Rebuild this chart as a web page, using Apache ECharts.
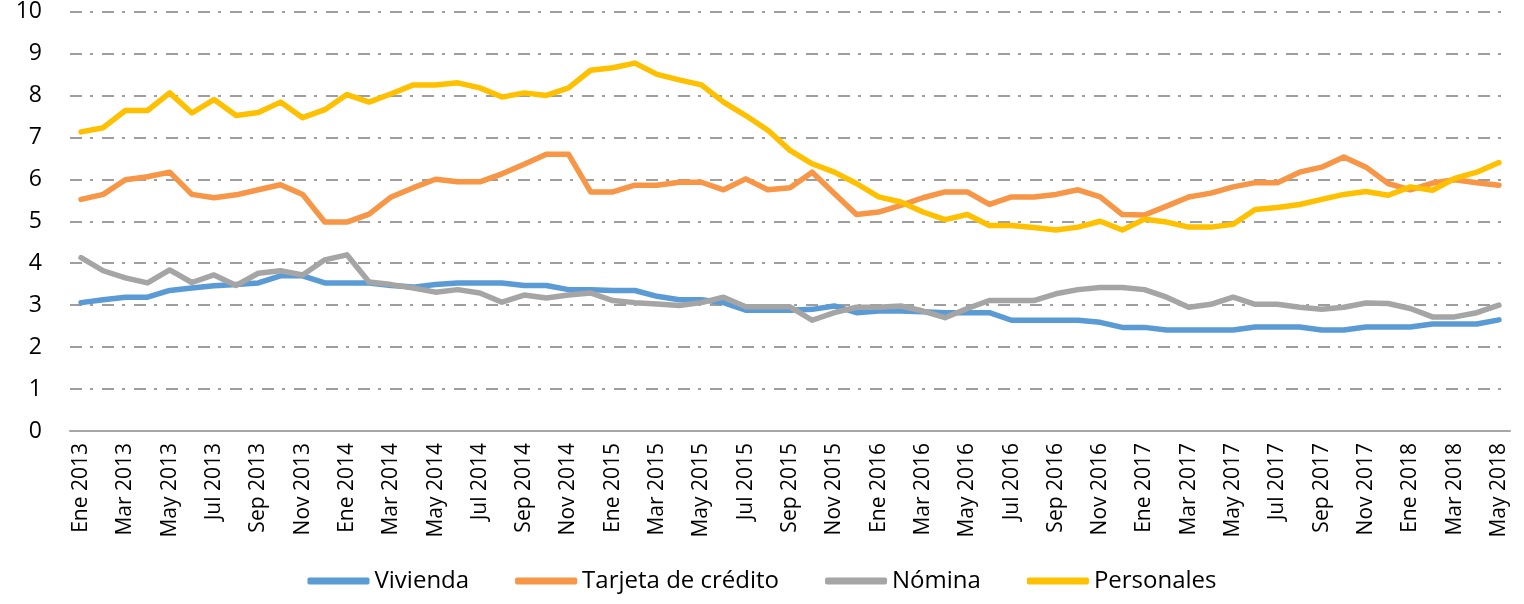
<!DOCTYPE html>
<html>
<head>
<meta charset="utf-8">
<script src="https://cdn.jsdelivr.net/npm/echarts@6/dist/echarts.min.js"></script>
<style>
  html, body { margin: 0; padding: 0; background: #fff; }
  #chart-container { width: 1524px; height: 604px; }
</style>
</head>
<body>
<div id="chart-container"></div>
<script>
var monthNames = ['Ene', 'Feb', 'Mar', 'Abr', 'May', 'Jun', 'Jul', 'Ago', 'Sep', 'Oct', 'Nov', 'Dic'];
var years = [2013, 2014, 2015, 2016, 2017, 2018];

// Ene 2013 .. May 2018
var months = [];
years.forEach(function (y) {
  monthNames.forEach(function (m, k) {
    if (y === 2018 && k > 4) return;
    months.push(m + ' ' + y);
  });
});

var vivienda = [3.06, 3.13, 3.19, 3.19, 3.35, 3.41, 3.46, 3.49, 3.53, 3.7, 3.7, 3.53, 3.53, 3.53, 3.47, 3.43, 3.49,
  3.53, 3.53, 3.53, 3.47, 3.47, 3.37, 3.37, 3.35, 3.35, 3.21, 3.13, 3.13, 3.06, 2.88, 2.88, 2.88,
  2.9, 2.98, 2.82, 2.86, 2.86, 2.84, 2.82, 2.82, 2.82, 2.64, 2.64, 2.64, 2.64, 2.59, 2.47, 2.47,
  2.41, 2.41, 2.41, 2.41, 2.48, 2.48, 2.48, 2.41, 2.41, 2.48, 2.48, 2.48, 2.55, 2.55, 2.55, 2.65];

var tarjeta = [5.52, 5.64, 5.99, 6.06, 6.17, 5.64, 5.56, 5.63, 5.75, 5.87, 5.64, 4.98, 4.98, 5.17, 5.58, 5.8, 6.0,
  5.94, 5.94, 6.13, 6.36, 6.6, 6.6, 5.7, 5.7, 5.86, 5.86, 5.93, 5.93, 5.75, 6.01, 5.75, 5.8,
  6.17, 5.66, 5.16, 5.22, 5.38, 5.56, 5.7, 5.7, 5.4, 5.58, 5.58, 5.64, 5.75, 5.58, 5.16, 5.15,
  5.36, 5.58, 5.67, 5.82, 5.92, 5.92, 6.17, 6.29, 6.53, 6.29, 5.9, 5.75, 5.91, 5.99, 5.92, 5.86];

var nomina = [4.13, 3.82, 3.65, 3.53, 3.84, 3.54, 3.72, 3.47, 3.76, 3.82, 3.72, 4.08, 4.2, 3.55, 3.49, 3.41, 3.31,
  3.37, 3.29, 3.07, 3.24, 3.17, 3.24, 3.29, 3.11, 3.06, 3.03, 2.99, 3.06, 3.19, 2.96, 2.96, 2.96,
  2.64, 2.82, 2.95, 2.95, 2.98, 2.86, 2.7, 2.92, 3.11, 3.11, 3.11, 3.27, 3.37, 3.42, 3.42, 3.37,
  3.19, 2.95, 3.02, 3.19, 3.02, 3.02, 2.95, 2.9, 2.95, 3.05, 3.04, 2.92, 2.72, 2.72, 2.82, 3.0];

var personales = [7.13, 7.23, 7.64, 7.64, 8.06, 7.58, 7.9, 7.52, 7.59, 7.84, 7.47, 7.66, 8.02, 7.84, 8.04, 8.25, 8.25,
  8.3, 8.18, 7.96, 8.06, 8.0, 8.18, 8.6, 8.66, 8.77, 8.5, 8.37, 8.25, 7.84, 7.52, 7.17, 6.69,
  6.37, 6.17, 5.9, 5.58, 5.46, 5.22, 5.04, 5.16, 4.9, 4.9, 4.85, 4.79, 4.86, 5.0, 4.79, 5.05,
  4.98, 4.86, 4.86, 4.93, 5.28, 5.33, 5.4, 5.52, 5.64, 5.71, 5.62, 5.82, 5.74, 6.02, 6.17, 6.4];

var seriesNames = ['Vivienda', 'Tarjeta de crédito', 'Nómina', 'Personales'];
var seriesColors = ['#5b9bd5', '#f79646', '#a5a5a5', '#ffc000'];
var seriesData = [vivienda, tarjeta, nomina, personales];

var dom = document.getElementById('chart-container');
var myChart = echarts.init(dom, null, { renderer: 'canvas' });

var fontFamily = '"Open Sans", "DejaVu Sans", sans-serif';

var option = {
  animation: false,
  textStyle: { fontFamily: fontFamily },
  grid: { left: 70, right: 14, top: 11, bottom: 173 },
  legend: {
    bottom: 6,
    left: 'center',
    itemWidth: 62,
    itemHeight: 7,
    itemGap: 46,
    icon: 'roundRect',
    textStyle: { fontSize: 24, color: '#000', fontFamily: fontFamily },
    data: seriesNames
  },
  xAxis: {
    type: 'category',
    data: months,
    boundaryGap: true,
    axisLine: { lineStyle: { color: '#a6a6a6', width: 2 } },
    axisTick: { show: false },
    axisLabel: {
      interval: 1,
      rotate: 90,
      fontSize: 21,
      color: '#000',
      margin: 12,
      fontFamily: fontFamily
    }
  },
  yAxis: {
    type: 'value',
    min: 0,
    max: 10,
    interval: 1,
    axisLine: { show: false },
    axisTick: { show: false },
    axisLabel: { fontSize: 23, color: '#000', margin: 28, fontFamily: fontFamily },
    splitLine: {
      lineStyle: { color: '#9e9e9e', width: 2, type: [12, 8, 3, 9] }
    }
  },
  series: seriesNames.map(function (name, i) {
    return {
      name: name,
      type: 'line',
      data: seriesData[i],
      showSymbol: false,
      symbol: 'none',
      color: seriesColors[i],
      lineStyle: { width: 5.5, color: seriesColors[i], join: 'round', cap: 'round' }
    };
  })
};

myChart.setOption(option);
window.addEventListener('resize', myChart.resize);
</script>
</body>
</html>
